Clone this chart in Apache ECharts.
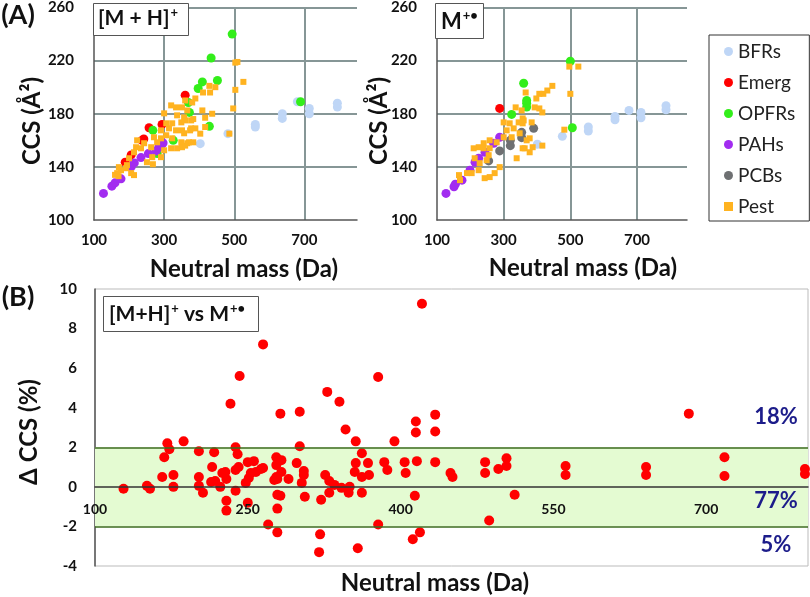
<!DOCTYPE html>
<html lang="en">
<head>
  <meta charset="UTF-8" />
  <title>CCS vs neutral mass</title>
  <script src="https://cdn.jsdelivr.net/npm/echarts@6.0.0/dist/echarts.min.js"></script>
  <style>
    body { margin: 0; background: #fff; overflow: hidden; }
    #main { width: 810px; height: 597px; }
  </style>
</head>
<body>
  <div id="main"></div>
  <script>
    const chart = echarts.init(document.getElementById('main'));
    const FONT = 'Lato, "Open Sans", sans-serif';

    // axis ranges
    const massTop = { min: 100, max: 850, interval: 200 };
    const ccsTop = { min: 100, max: 260, interval: 40 };
    const massBottom = { min: 100, max: 800, interval: 150 };
    const deltaRange = { min: -4, max: 10, interval: 2 };

    const classNames = ['BFRs', 'Emerg', 'OPFRs', 'PAHs', 'PCBs', 'Pest'];
    const classColors = ['#bfd6f6', '#ff0000', '#33ee1a', '#a22cf0', '#6e7072', '#ffb320'];

    // [M+H]+ panel : [neutral mass, CCS]
    const mhBFRs = [[403,157.5],[482,165],[560,170],[560,172],[637,176.5],[637,180],[680,189],[714,180],[714,184],[794,185],[794,188]];
    const mhEmerg = [[189,143.5],[206,149],[237,160],[242,161],[257,169.5],[294,172],[360,194]];
    const mhOPFRs = [[268,167.5],[280,150],[326,160],[369,188.5],[372,181],[397,199],[409,204],[429,170.5],[434,222],[452,205],[494,240],[689,189]];
    const mhPAHs = [[127,120],[151,125.5],[160,128],[177,131],[206,140],[215,143],[234,147],[255,150],[277,152],[285,155],[297,158]];
    const mhPCBs = [];
    const mhPest = [
      [320,186.3],[334,184.8],[351,184.8],[366,182.5],[300,180.3],[337,178.8],[357,177.3],[377,175],[323,172.8],[349,173.5],
      [314,169],[334,167.5],[357,165.3],[377,169],[306,163.8],[291,161.5],[323,161.5],[349,158.5],[371,158.5],[337,154],
      [320,154],[300,152.5],[291,147.3],[266,147.3],[251,143.5],[234,154],[220,154.8],[214,151],[200,146.5],[194,141.3],
      [191,139],[177,137.5],[166,135.3],[206,135.3],[214,133.8],[171,139.8],[243,157.8],[263,154.8],[223,160],[280,158.5],
      [291,167.5],[271,162.3],[306,172.8],[160,134],[170,133],[268,142],
      [503,218.5],[509,219],[526,204],[503,198],[497,184],[486,165],[437,180],[411,196],[429,201],[446,200],
      [431,196],[389,191.5],[380,188.5],[360,190],[409,182.5],[417,177],[383,176],[360,175],[374,167.5],[403,165],
      [417,170],[389,169],[351,167.5],[383,158.5],[366,157.8],[351,154.8],[360,156]
    ];

    // M+. panel : [neutral mass, CCS]
    const mBFRs = [[401,157],[476,163],[554,167],[554,170],[634,175.5],[634,178],[676,182.5],[712,177],[712,181],[787,183],[787,186]];
    const mEmerg = [[288,184]];
    const mOPFRs = [[324,179.5],[360,203],[369,185],[369,188],[369,190],[500,219.5],[506,169.5]];
    const mPAHs = [[127,120],[151,125],[155,127],[175,130],[199,137.5],[214,143.5],[225,146.5],[244,151],[270,157.8],[288,162.3]];
    const mPCBs = [[255,144.5],[288,152],[320,156],[320,160],[354,162],[354,166],[390,169]];
    const mPest = [
      [336,184.8],[300,173.5],[318,172.8],[345,173.5],[360,175],[309,167.5],[330,169],[348,165.3],[300,162.3],[324,162.3],
      [279,158.5],[258,160],[240,157.8],[225,154.8],[240,154],[210,154],[258,154],[339,146.5],[363,154],[378,151],
      [288,139.8],[273,135.3],[258,132.3],[243,131.5],[225,137.5],[204,135.3],[166,133.8],[169,130],[190,135.3],[228,142.8],
      [213,146.5],[249,145],[255,148.8],
      [497,215.5],[524,215.5],[500,195],[446,201],[431,197.5],[419,195],[407,195],[366,196],[398,191.5],[393,184.8],
      [407,184],[416,181],[354,182.5],[357,176.5],[357,172.8],[384,173.5],[482,168],[369,160],[378,161.5],[357,154],
      [416,156],[387,154.8]
    ];

    // (B) [M+H]+ vs M+. : [neutral mass, delta CCS %]
    const deltaCCS = [
      [128,-0.1],[151,0.05],[154,-0.1],[166,0.5],[168,1.5],[171,2.2],[173,1.9],[177,0.6],[177,0],[187,2.3],
      [202,1.8],[202,0.5],[202,0.05],[206,-0.3],[215,1.0],[214,0.25],[217,1.75],[218,0.3],[223,0],[225,0.7],
      [228,0.75],[229,0.4],[229,-0.7],[229,-1.2],[233,4.2],[238,2.0],[238,-0.2],[240,1.65],[238,0.85],[241,1.0],
      [242,5.6],[250,-0.8],[248,0.2],[251,0.45],[253,0.7],[250,1.25],[256,1.3],[258,0.75],[263,0.9],[265,7.2],
      [270,-1.9],[278,1.5],[278,1.1],[278,0.5],[279,0.4],[279,-0.4],[279,-1.1],[279,-2.3],[282,3.7],[265,0.95],
      [282,-0.45],[283,1.35],[283,0.75],[276,0.35],[290,0.4],[298,1.2],[301,3.8],[301,2.05],[305,0.8],[305,0.6],
      [303,0.2],[306,-0.5],[321,-2.4],[320,-3.3],[322,-0.65],[328,4.8],[326,0.6],[330,0.3],[330,-0.3],[335,0.1],
      [340,4.3],[342,-0.05],[346,2.9],[350,0],[349,-0.3],[356,2.3],[356,1.2],[355,0.75],[358,-3.1],[362,1.7],
      [362,-0.3],[362,0.5],[368,1.2],[369,0.6],[378,5.55],[378,-1.9],[384,1.25],[387,0.85],[394,2.3],[404,1.25],
      [405,0.7],[415,3.3],[415,2.75],[416,1.3],[414,-0.45],[412,-2.65],[419,-2.3],[421,9.25],[434,3.65],[434,2.8],
      [434,1.25],[449,0.7],[451,0.5],[483,1.25],[483,0.7],[487,-1.7],[496,0.9],[504,1.45],[504,1.05],[512,-0.4],
      [562,1.05],[562,0.6],[641,1.0],[641,0.6],[683,3.7],[718,1.5],[718,0.55],[797,0.9],[797,0.65]
    ];

    const bandLimits = [-2, 2];
    const bandShares = [
      { text: '18%', y: 417 },
      { text: '77%', y: 501 },
      { text: '5%', y: 545 }
    ];

    const topPanels = [
      [mhBFRs, mhEmerg, mhOPFRs, mhPAHs, mhPCBs, mhPest],
      [mBFRs, mEmerg, mOPFRs, mPAHs, mPCBs, mPest]
    ];

    const lbl = { fontFamily: FONT, fontWeight: 'bold', color: '#111' };
    const bottomGrid = { left: 95, top: 289, width: 713, height: 277 };
    // lift the bottom mass axis from the grid edge up to delta = 0
    const zeroOffset = -bottomGrid.height * (0 - deltaRange.min) / (deltaRange.max - deltaRange.min);

    function topX(i) {
      return {
        gridIndex: i, type: 'value', min: massTop.min, max: massTop.max, interval: massTop.interval,
        axisLine: { show: true, onZero: false, lineStyle: { color: '#555', width: 1.5 } },
        axisTick: { show: false },
        axisLabel: Object.assign({ fontSize: 15, margin: 13, showMaxLabel: false }, lbl),
        splitLine: { show: true, showMinLine: false, showMaxLine: false, lineStyle: { color: '#869696', width: 2 } }
      };
    }
    function topY(i) {
      return {
        gridIndex: i, type: 'value', min: ccsTop.min, max: ccsTop.max, interval: ccsTop.interval,
        axisLine: { show: true, onZero: false, lineStyle: { color: '#555', width: 1.5 } },
        axisTick: { show: false },
        axisLabel: Object.assign({ fontSize: 15, margin: 20 }, lbl),
        splitLine: { show: true, showMinLine: false, lineStyle: { color: '#869696', width: 2 } }
      };
    }

    const series = [];
    topPanels.forEach((sets, p) => {
      sets.forEach((d, k) => {
        series.push({
          name: classNames[k],
          type: 'scatter',
          xAxisIndex: p, yAxisIndex: p,
          data: d,
          symbol: classNames[k] === 'Pest' ? 'rect' : 'circle',
          symbolSize: classNames[k] === 'Pest' ? 6 : 9,
          itemStyle: { color: classColors[k], opacity: 1 }
        });
      });
    });
    series.push({
      name: 'ΔCCS',
      type: 'scatter',
      xAxisIndex: 2, yAxisIndex: 2,
      data: deltaCCS,
      symbolSize: 10,
      itemStyle: { color: '#ff0000', opacity: 1 },
      markArea: {
        silent: true,
        itemStyle: { color: '#e4fbd2' },
        data: [[{ yAxis: bandLimits[0] }, { yAxis: bandLimits[1] }]]
      },
      markLine: {
        silent: true, symbol: 'none', label: { show: false },
        lineStyle: { color: '#3d6b1f', width: 1.5, type: 'solid' },
        data: bandLimits.map(v => ({ yAxis: v }))
      }
    });

    function supText(parts, x, y, size) {
      return {
        type: 'text', left: x, top: y, z: 20,
        style: {
          text: parts.map(p => p[1] ? '{s|' + p[0] + '}' : '{a|' + p[0] + '}').join(''),
          rich: {
            a: { fontFamily: FONT, fontWeight: 'bold', fontSize: size, fill: '#111' },
            s: { fontFamily: FONT, fontWeight: 'bold', fontSize: Math.round(size * 0.6), fill: '#111', padding: [0, 0, 12, 1] }
          }
        }
      };
    }
    function boxRect(x, y, w, h) {
      return { type: 'rect', shape: { x: x, y: y, width: w, height: h }, z: 19,
        style: { fill: '#fff', stroke: '#555', lineWidth: 1 } };
    }
    function plainText(t, x, y, size, rot, color) {
      return { type: 'text', x: x, y: y, rotation: rot || 0, z: 20,
        style: { text: t, fontFamily: FONT, fontWeight: 'bold', fontSize: size, fill: color || '#111',
          align: 'center', verticalAlign: 'middle' } };
    }

    const graphics = [
      plainText('(A)', 18, 15, 27),
      plainText('(B)', 18, 297, 27),
      plainText('CCS (Å²)', 32, 121, 24, Math.PI / 2),
      plainText('CCS (Å²)', 379, 121, 24, Math.PI / 2),
      plainText('Neutral mass (Da)', 244, 269, 24),
      plainText('Neutral mass (Da)', 583, 268, 24),
      plainText('Δ CCS (%)', 29, 432, 24, Math.PI / 2),
      plainText('Neutral mass (Da)', 435, 583, 24),
      boxRect(93.5, 3.5, 95, 32),
      supText([['[M + H]'], ['+', 1]], 98, 6, 21),
      boxRect(435.5, 3.5, 48, 35),
      supText([['M'], ['+•', 1]], 441, 9, 22),
      boxRect(103.5, 296.5, 155, 35),
      supText([['[M+H]'], ['+', 1], [' vs M'], ['+•', 1]], 109, 302, 21)
    ];
    bandShares.forEach(b => graphics.push(plainText(b.text, 776, b.y, 22, 0, '#1c1c8a')));

    const option = {
      animation: false,
      backgroundColor: '#fff',
      textStyle: { fontFamily: FONT },
      grid: [
        { left: 94, top: 7, width: 263, height: 213 },
        { left: 437, top: 7, width: 250, height: 213 },
        Object.assign({ show: true, borderColor: '#bbb', borderWidth: 1 }, bottomGrid)
      ],
      legend: {
        data: classNames,
        orient: 'vertical', left: 709, top: 35,
        itemWidth: 9, itemHeight: 9, itemGap: 12, itemTextGap: 9,
        textStyle: { fontFamily: FONT, fontSize: 19, color: '#222' },
        borderColor: '#333', borderWidth: 1,
        padding: [7, 14, 5, 15]
      },
      xAxis: [
        topX(0), topX(1),
        {
          gridIndex: 2, type: 'value', min: massBottom.min, max: massBottom.max, interval: massBottom.interval, z: 5,
          position: 'bottom', offset: zeroOffset,
          axisLine: { show: true, onZero: false, lineStyle: { color: '#333', width: 1.5 } },
          axisTick: { show: false },
          axisLabel: Object.assign({ fontSize: 14, margin: 16, showMaxLabel: false }, lbl),
          splitLine: { show: false }
        }
      ],
      yAxis: [
        topY(0), topY(1),
        {
          gridIndex: 2, type: 'value', min: deltaRange.min, max: deltaRange.max, interval: deltaRange.interval,
          axisLine: { show: true, onZero: false, lineStyle: { color: '#555', width: 1.5 } },
          axisTick: { show: false },
          axisLabel: Object.assign({ fontSize: 15, margin: 18 }, lbl),
          splitLine: { show: false }
        }
      ],
      series: series,
      graphic: graphics
    };

    chart.setOption(option);
    window.addEventListener('resize', () => chart.resize());
  </script>
</body>
</html>
